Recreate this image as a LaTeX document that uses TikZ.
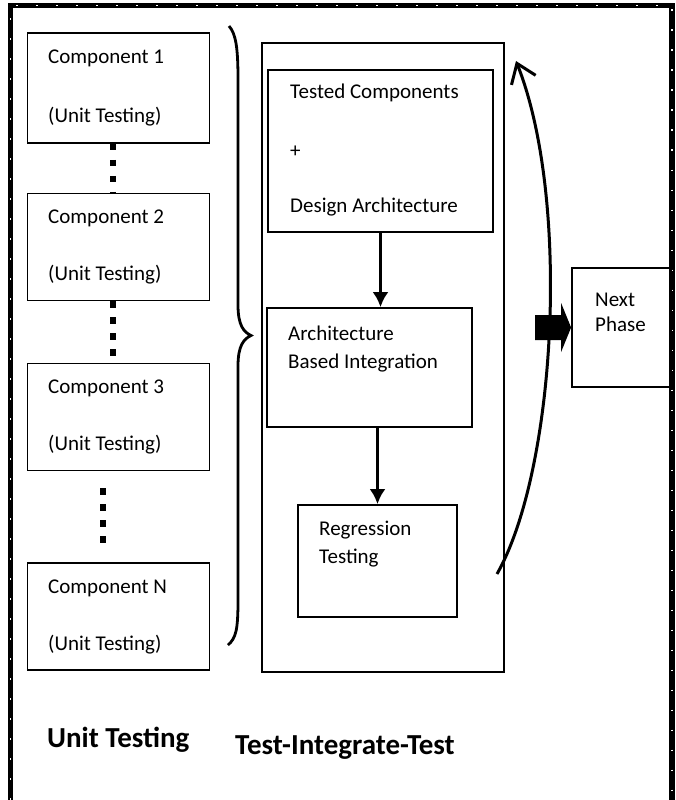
\documentclass[tikz,border=0pt]{standalone}
\usepackage{fontspec}
\setmainfont{Carlito}
\usetikzlibrary{arrows.meta,positioning}

\begin{document}
\begin{tikzpicture}[
    x=1pt, y=-1pt,
    box/.style={
      rectangle,
      draw=black,
      line width=1.8pt,
      inner sep=0pt
    },
    unitbox/.style={
      box,
      minimum width=182pt,
      minimum height=107pt
    },
    boxtext/.style={
      anchor=west,
      inner sep=0pt,
      font=\fontsize{21}{25}\selectfont
    },
    caption/.style={
      anchor=west,
      inner sep=0pt,
      font=\bfseries\fontsize{29}{34}\selectfont
    },
    arrow/.style={-{Latex[length=15pt,width=16pt]}, line width=3pt},
    dotline/.style={line width=6.5pt, dash pattern=on 6.5pt off 9.5pt},
    frame/.style={line width=5.5pt}
  ]
    \useasboundingbox (0,0) rectangle (676,800);
    \clip (0,0) rectangle (676,800);

    \draw[frame] (10.5,820) -- (10.5,5.5) -- (672,5.5) -- (672,820);
    \draw[white, line width=1.6pt, dash pattern=on 1.6pt off 18.4pt]
      (10.5,820) -- (10.5,5.5) -- (672,5.5) -- (672,820);

    \node[unitbox, minimum height=110pt] (comp1) at (118.5,88) {};
    \node[unitbox] (comp2) at (118.5,247) {};
    \node[unitbox] (comp3) at (118.5,417) {};
    \node[unitbox] (compn) at (118.5,616.5) {};

    \node[boxtext] (comp1a) at (48,58) {Component 1};
    \node[boxtext] (comp1b) at (48,117) {(Unit Testing)};
    \node[boxtext] (comp2a) at (48,218) {Component 2};
    \node[boxtext] (comp2b) at (48,275) {(Unit Testing)};
    \node[boxtext] (comp3a) at (48,388) {Component 3};
    \node[boxtext] (comp3b) at (48,445) {(Unit Testing)};
    \node[boxtext] (compna) at (48,588) {Component N};
    \node[boxtext] (compnb) at (48,645) {(Unit Testing)};

    \draw[dotline] ([xshift=-5.5pt]comp1.south) -- ([xshift=-5.5pt]comp2.north);
    \draw[dotline] ([xshift=-5.5pt]comp2.south) -- ([xshift=-5.5pt]comp3.north);
    \draw[dotline] ([xshift=-15.5pt,yshift=-17pt]comp3.south) -- ([xshift=-15.5pt,yshift=10pt]compn.north);

    \draw[line width=2.8pt] (229,26) .. controls (236,34) and (238,48) .. (238,80)
      -- (238,305) .. controls (238,326) and (244,332) .. (251,335.5)
      .. controls (244,339) and (238,345) .. (238,366)
      -- (238,600) .. controls (238,630) and (236,638) .. (228,645);

    \node[box, line width=2.2pt, minimum width=242pt, minimum height=629pt] (tit) at (383,357.5) {};
    \node[box, minimum width=225pt, minimum height=162pt] (tested) at (380.5,151) {};
    \node[box, minimum width=205pt, minimum height=119pt] (abi) at (369.5,367.5) {};
    \node[box, minimum width=159pt, minimum height=112pt] (reg) at (377.5,561) {};
    \node[box, minimum width=99pt, minimum height=119pt] (next) at (621.5,327.5) {};

    \node[boxtext] (testeda) at (290,93) {Tested Components};
    \node[boxtext] (testedb) at (290,152) {+};
    \node[boxtext] (testedc) at (290,207) {Design Architecture};
    \node[boxtext] (abia) at (288,333) {Architecture};
    \node[boxtext] (abib) at (288,363) {Based Integration};
    \node[boxtext] (rega) at (319,530) {Regression};
    \node[boxtext] (regb) at (319,558) {Testing};
    \node[boxtext] (nexta) at (595,300) {Next};
    \node[boxtext] (nextb) at (595,324) {Phase};

    \draw[arrow] (tested) -- (tested.south |- abi.north);
    \draw[arrow] (reg.north |- abi.south) -- (reg.north);

    \coordinate (loopstart) at (497,574);
    \coordinate (loopend) at (516,61);
    \draw[line width=3pt, -{Straight Barb[length=18pt,width=26pt,line width=3pt]}]
      (loopstart) .. controls (556,470) and (571,200) .. (loopend);

    \fill ([xshift=-36pt,yshift=-12.5pt]next.west) -- ([xshift=-10pt,yshift=-12.5pt]next.west)
      -- ([xshift=-10pt,yshift=-24.5pt]next.west) -- (next.west)
      -- ([xshift=-10pt,yshift=24.5pt]next.west) -- ([xshift=-10pt,yshift=12.5pt]next.west)
      -- ([xshift=-36pt,yshift=12.5pt]next.west) -- cycle;

    \node[caption] (unitcap) at (47,740) {Unit Testing};
    \node[caption] (titcap) at (235,748) {Test-Integrate-Test};
  \end{tikzpicture}
\end{document}
